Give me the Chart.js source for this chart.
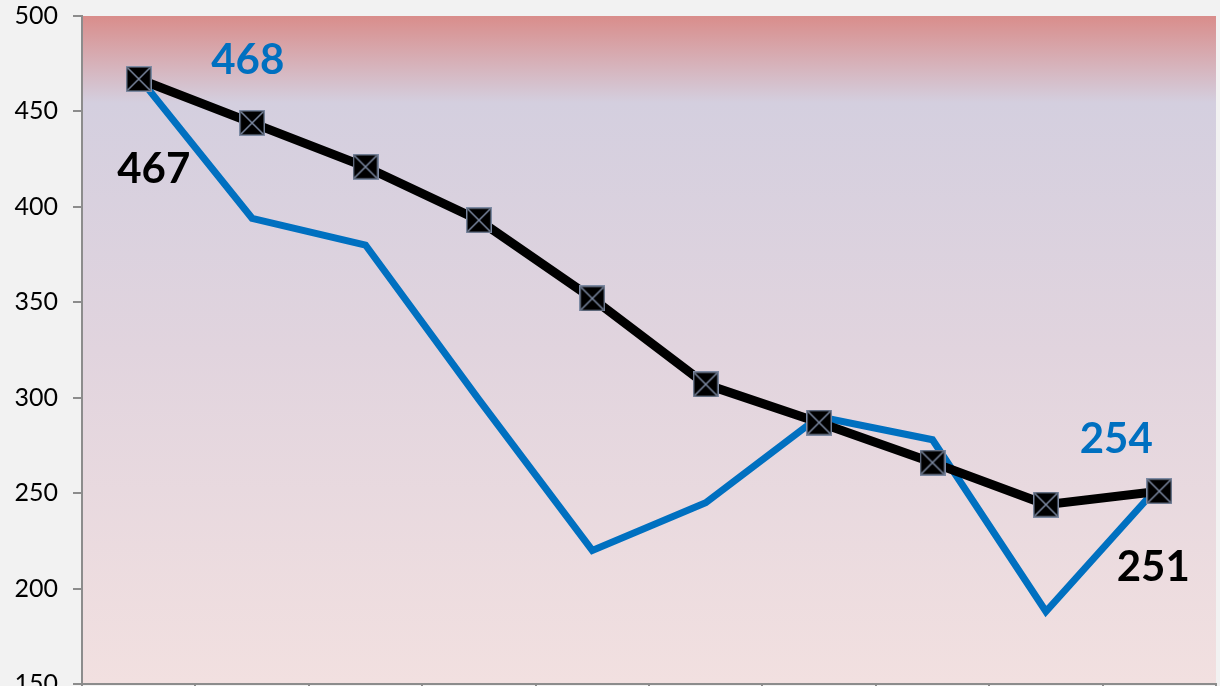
<!DOCTYPE html>
<html>
<head>
<meta charset="utf-8">
<script src="https://cdn.jsdelivr.net/npm/chart.js@4/dist/chart.umd.min.js"></script>
<style>
  html, body { margin: 0; padding: 0; background: #f2f2f2; overflow: hidden; }
  #wrap { width: 1220px; height: 774px; position: relative; top: -14px; }
</style>
</head>
<body>
<div id="wrap"><canvas id="chart"></canvas></div>
<script>
const categories = ["1", "2", "3", "4", "5", "6", "7", "8", "9", "10"];
const blackSeries = [467, 444, 421, 393, 352, 307, 287, 266, 244, 251];
const blueSeries = [468, 394, 380, 299, 220, 245, 290, 278, 188, 254];
const yTicks = { min: 150, max: 500, step: 50 };

// black square marker with a grey cross
function makeMarker(size) {
    const c = document.createElement("canvas");
    c.width = size;
    c.height = size;
    const g = c.getContext("2d");
    g.fillStyle = "#000";
    g.fillRect(0, 0, size, size);
    g.strokeStyle = "#7d8aa3";
    g.lineWidth = 1.5;
    g.strokeRect(0.75, 0.75, size - 1.5, size - 1.5);
    g.beginPath();
    g.moveTo(2, 2);
    g.lineTo(size - 2, size - 2);
    g.moveTo(size - 2, 2);
    g.lineTo(2, size - 2);
    g.stroke();
    return c;
}

const plotBackground = {
    id: "plotBackground",
    beforeDraw(chart) {
        const { ctx, chartArea: a } = chart;
        const grad = ctx.createLinearGradient(0, a.top, 0, a.bottom);
        grad.addColorStop(0, "#d98d8b");
        grad.addColorStop(0.13, "#d4cfdf");
        grad.addColorStop(0.5, "#e1d4de");
        grad.addColorStop(1, "#f2e0e0");
        ctx.save();
        ctx.fillStyle = grad;
        ctx.fillRect(a.left, a.top, a.right - a.left, a.bottom - a.top);
        ctx.restore();
    },
};

// end value labels, placed relative to their points
const valueLabels = {
    id: "valueLabels",
    afterDatasetsDraw(chart) {
        const { ctx } = chart;
        const black = chart.getDatasetMeta(0).data;
        const blue = chart.getDatasetMeta(1).data;
        const last = categories.length - 1;
        const items = [
            { p: black[0], dx: 15, dy: 90, text: blackSeries[0], color: "#000" },
            { p: blue[0], dx: 109, dy: -17, text: blueSeries[0], color: "#0070c0" },
            { p: blue[last], dx: -43, dy: -46, text: blueSeries[last], color: "#0070c0" },
            { p: black[last], dx: -6, dy: 76, text: blackSeries[last], color: "#000" },
        ];
        ctx.save();
        ctx.font = "bold 42px Lato";
        ctx.textAlign = "center";
        ctx.textBaseline = "middle";
        items.forEach((it) => {
            ctx.fillStyle = it.color;
            ctx.fillText(String(it.text), it.p.x + it.dx, it.p.y + it.dy);
        });
        ctx.restore();
    },
};

const ctx = document.getElementById("chart").getContext("2d");
new Chart(ctx, {
    type: "line",
    data: {
        labels: categories,
        datasets: [
            {
                data: blackSeries,
                borderColor: "#000",
                borderWidth: 9,
                pointStyle: makeMarker(26),
                pointRadius: 13,
                pointHoverRadius: 13,
                tension: 0,
            },
            {
                data: blueSeries,
                borderColor: "#0070c0",
                borderWidth: 7,
                pointRadius: 0,
                tension: 0,
            },
        ],
    },
    options: {
        responsive: true,
        maintainAspectRatio: false,
        animation: false,
        layout: { autoPadding: false, padding: { top: 2, right: 4, left: 0, bottom: 0 } },
        plugins: {
            legend: { display: false },
            tooltip: { enabled: false },
        },
        scales: {
            x: {
                offset: true,
                grid: {
                    display: true,
                    offset: true,
                    drawOnChartArea: false,
                    tickLength: 10,
                    color: "#8c8c8c",
                    lineWidth: 2,
                },
                border: { color: "#8c8c8c", width: 2 },
                ticks: { display: false },
                afterFit(scale) { scale.height = 76; },
            },
            y: {
                min: yTicks.min,
                max: yTicks.max,
                grid: {
                    drawOnChartArea: false,
                    tickLength: 9,
                    color: "#8c8c8c",
                    lineWidth: 2,
                },
                border: { color: "#8c8c8c", width: 2 },
                ticks: {
                    stepSize: yTicks.step,
                    padding: 15,
                    color: "#000",
                    font: { family: "Lato", size: 25 },
                },
                afterFit(scale) { scale.width = 82; },
            },
        },
    },
    plugins: [plotBackground, valueLabels],
});
</script>
</body>
</html>
